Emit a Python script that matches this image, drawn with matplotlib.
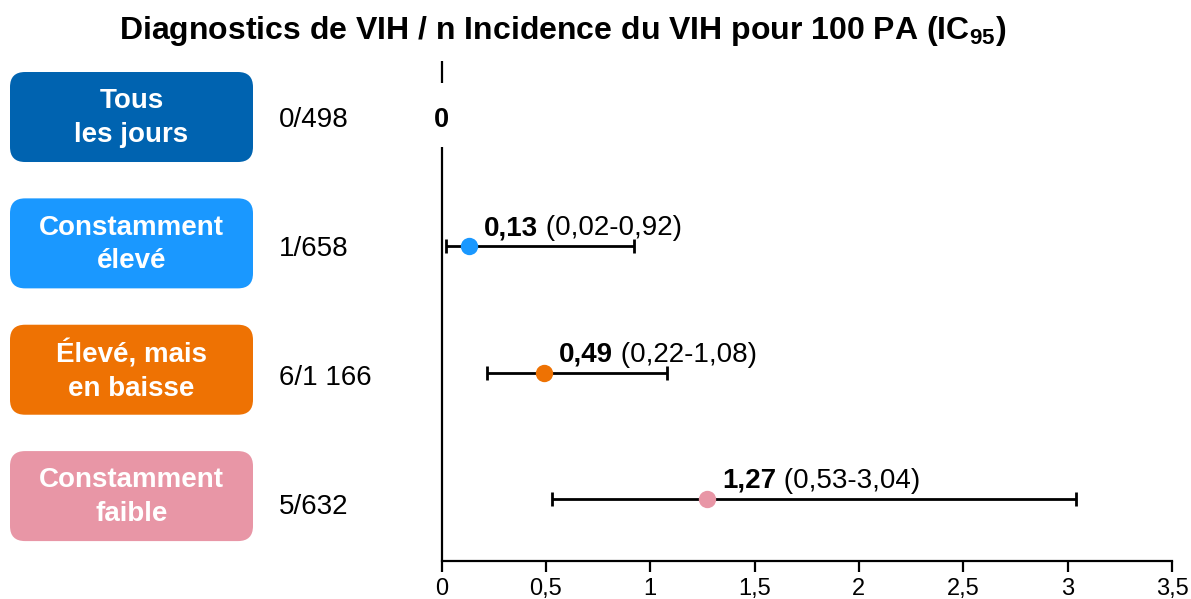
import matplotlib
matplotlib.use('Agg')
import matplotlib.pyplot as plt
from matplotlib.patches import FancyBboxPatch
from matplotlib.transforms import blended_transform_factory

plt.rcParams['font.family'] = ['Liberation Sans', 'DejaVu Sans']
plt.rcParams['mathtext.fontset'] = 'custom'
plt.rcParams['mathtext.rm'] = 'Liberation Sans:bold'
plt.rcParams['mathtext.it'] = 'Liberation Sans:bold'
plt.rcParams['mathtext.bf'] = 'Liberation Sans:bold'

# data
groups = ['Tous\nles jours', 'Constamment\nélevé', 'Élevé, mais\nen baisse', 'Constamment\nfaible']
counts = ['0/498', '1/658', '6/1 166', '5/632']
estimates = [0, 0.13, 0.49, 1.27]
lower = [None, 0.02, 0.22, 0.53]
upper = [None, 0.92, 1.08, 3.04]
box_colors = ['#0063B0', '#1A98FF', '#EE7203', '#E896A6']
xticks = [0, 0.5, 1, 1.5, 2, 2.5, 3, 3.5]

def fr(v):
    return f'{v:.2f}'.replace('.', ',')

W, H = 1191, 599
fig = plt.figure(figsize=(W / 100, H / 100), dpi=100)
ax = fig.add_axes([441.5 / W, 1 - 561 / H, (1172 - 441.5) / W, (561 - 61) / H])
ax.set_xlim(0, 3.5)
ax.set_ylim(3.49, -0.467)

for s in ['top', 'right', 'left']:
    ax.spines[s].set_visible(False)
ax.spines['bottom'].set_linewidth(1.6)
ax.set_yticks([])
ax.set_xticks(xticks)
ax.set_xticklabels([('%g' % t).replace('.', ',') for t in xticks], fontsize=17)
ax.tick_params(axis='x', length=8, width=1.6, pad=4)

# vertical axis line with a gap around the "0" label
ax.plot([0, 0], [-0.467, -0.29], color='black', lw=1.6, clip_on=False, solid_capstyle='butt')
ax.plot([0, 0], [0.21, 3.49], color='black', lw=1.6, clip_on=False, solid_capstyle='butt')

inch = fig.dpi_scale_trans
tr = blended_transform_factory(fig.transFigure, ax.transData)
for i, g in enumerate(groups):
    # row center in inches
    yc = (ax.transData + inch.inverted()).transform((0, i))[1] + 0.03
    box = FancyBboxPatch((0.10 + 0.15, yc - 0.45 + 0.15), 2.43 - 0.30, 0.90 - 0.30,
                         boxstyle='round,pad=0.15', transform=inch,
                         facecolor=box_colors[i], edgecolor='none')
    fig.patches.append(box)
    fig.text(1.315, yc - 0.01, g, transform=inch, ha='center', va='center', color='white',
             fontsize=20, fontweight='bold', linespacing=1.38)
    ax.text(279 / W, i + 0.02 * i, counts[i], transform=tr, ha='left', va='center', fontsize=20)

    if lower[i] is None:
        ax.text(estimates[i], i, '0', ha='center', va='center', fontsize=19.5, fontweight='bold')
        continue
    ax.errorbar(estimates[i], i, xerr=[[estimates[i] - lower[i]], [upper[i] - estimates[i]]],
                fmt='none', ecolor='black', elinewidth=2, capsize=5, capthick=2, zorder=2)
    ax.plot(estimates[i], i, 'o', color=box_colors[i], ms=12.5, mec='none', zorder=3)
    t1 = ax.annotate(fr(estimates[i]), xy=(estimates[i], i), xytext=(11, 8),
                     textcoords='offset points', ha='left', va='baseline',
                     fontsize=20, fontweight='bold')
    ax.annotate(' (' + fr(lower[i]) + '-' + fr(upper[i]) + ')', xy=(1, 0), xycoords=t1,
                ha='left', va='bottom', fontsize=20)

fig.text(563 / W, 1 - 31 / H, 'Diagnostics de VIH / n Incidence du VIH pour 100 PA (IC$_{95}$)',
         ha='center', va='center', fontsize=23, fontweight='bold')

fig.savefig('out.png', dpi=100)
